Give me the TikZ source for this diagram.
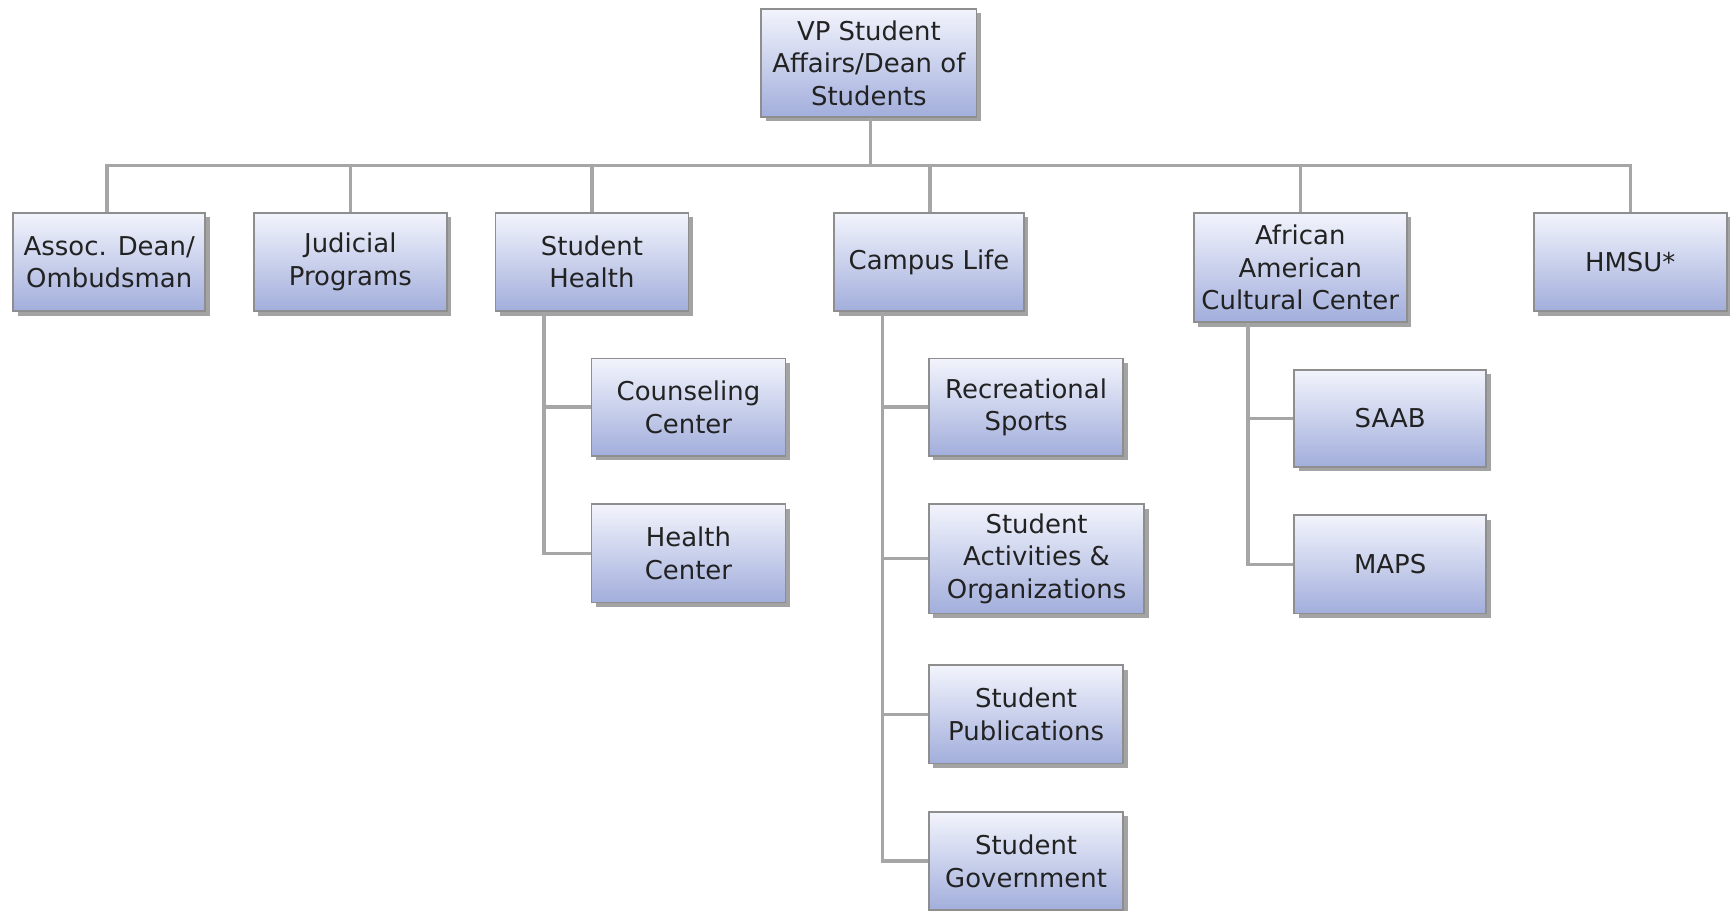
\documentclass[tikz,border=0pt]{standalone}
\usepackage{fontspec}
\setmainfont{DejaVu Sans}
\usetikzlibrary{shadows}
\definecolor{boxtop}{HTML}{F2F4FC}
\definecolor{boxbot}{HTML}{A2AEDC}
\definecolor{boxline}{HTML}{8E8E8E}
\definecolor{connc}{HTML}{A6A6A6}
\definecolor{txt}{HTML}{222222}
\tikzset{
  orgbox/.style={draw=boxline, line width=1.6pt, top color=boxtop, bottom color=boxbot,
    drop shadow={shadow xshift=4pt, shadow yshift=-4pt, fill=black!45, opacity=0.8},
    align=center, text=txt, inner sep=0pt,
    font=\fontsize{23.5}{29.5}\selectfont},
  conn/.style={draw=connc, line width=3pt}
}
\begin{document}
\begin{tikzpicture}[x=1pt,y=-1pt]
\useasboundingbox (0,0) rectangle (1568,825);
\fill[white] (0,0) rectangle (1568,825);
\coordinate (bus) at (0,150);
\node[orgbox, minimum width=195pt, minimum height=98pt] (top) at (787.5,57) {VP Student\\Affairs/Dean of\\Students};
\node[orgbox, minimum width=174pt, minimum height=89pt] (assoc) at (99,237.5) {Assoc. Dean/\\Ombudsman};
\node[orgbox, minimum width=175pt, minimum height=89pt] (judicial) at (317.5,237.5) {Judicial\\Programs};
\node[orgbox, minimum width=175pt, minimum height=89pt] (health) at (536.5,237.5) {Student\\Health};
\node[orgbox, minimum width=172pt, minimum height=89pt] (campus) at (842,237.5) {Campus Life};
\node[orgbox, minimum width=193pt, minimum height=99pt] (african) at (1178.5,242.5) {African\\American\\Cultural Center};
\node[orgbox, minimum width=175pt, minimum height=89pt] (hmsu) at (1477.5,237.5) {HMSU*};
\node[orgbox, minimum width=176pt, minimum height=88pt] (counsel) at (624,369) {Counseling\\Center};
\node[orgbox, minimum width=176pt, minimum height=89pt] (hcenter) at (624,501.5) {Health\\Center};
\node[orgbox, minimum width=176pt, minimum height=88pt] (rec) at (930,369) {Recreational\\Sports};
\node[orgbox, minimum width=195pt, minimum height=99pt] (activ) at (939.5,506.5) {Student\\Activities \&\\Organizations};
\node[orgbox, minimum width=176pt, minimum height=89pt] (pubs) at (930,647.5) {Student\\Publications};
\node[orgbox, minimum width=176pt, minimum height=89pt] (gov) at (930,780.5) {Student\\Government};
\node[orgbox, minimum width=174pt, minimum height=88pt] (saab) at (1260,379) {SAAB};
\node[orgbox, minimum width=174pt, minimum height=89pt] (maps) at (1260,511.5) {MAPS};
% connectors
\draw[conn] ([xshift=1.5pt]top.south) -- ([xshift=1.5pt]top.south |- bus);
\draw[conn] ([xshift=-2pt]assoc.north) |- ([xshift=0.5pt]hmsu.north |- bus) -- ([xshift=0.5pt]hmsu.north);
\draw[conn] (judicial.north) -- (judicial.north |- bus);
\draw[conn] (health.north) -- (health.north |- bus);
\draw[conn] ([xshift=1pt]campus.north) -- ([xshift=1pt]campus.north |- bus);
\draw[conn] ([xshift=0.5pt]african.north) -- ([xshift=0.5pt]african.north |- bus);
\coordinate (hs) at ([xshift=-43.5pt]health.south);
\draw[conn] (hs) |- (hcenter.west);
\draw[conn] (counsel.west) -- (counsel.west -| hs);
\coordinate (cs) at ([xshift=-42pt]campus.south);
\draw[conn] (cs) |- (gov.west);
\draw[conn] (rec.west) -- (rec.west -| cs);
\draw[conn] (activ.west) -- (activ.west -| cs);
\draw[conn] (pubs.west) -- (pubs.west -| cs);
\coordinate (as) at ([xshift=-47.5pt]african.south);
\draw[conn] (as) |- (maps.west);
\draw[conn] (saab.west) -- (saab.west -| as);
\end{tikzpicture}
\end{document}
